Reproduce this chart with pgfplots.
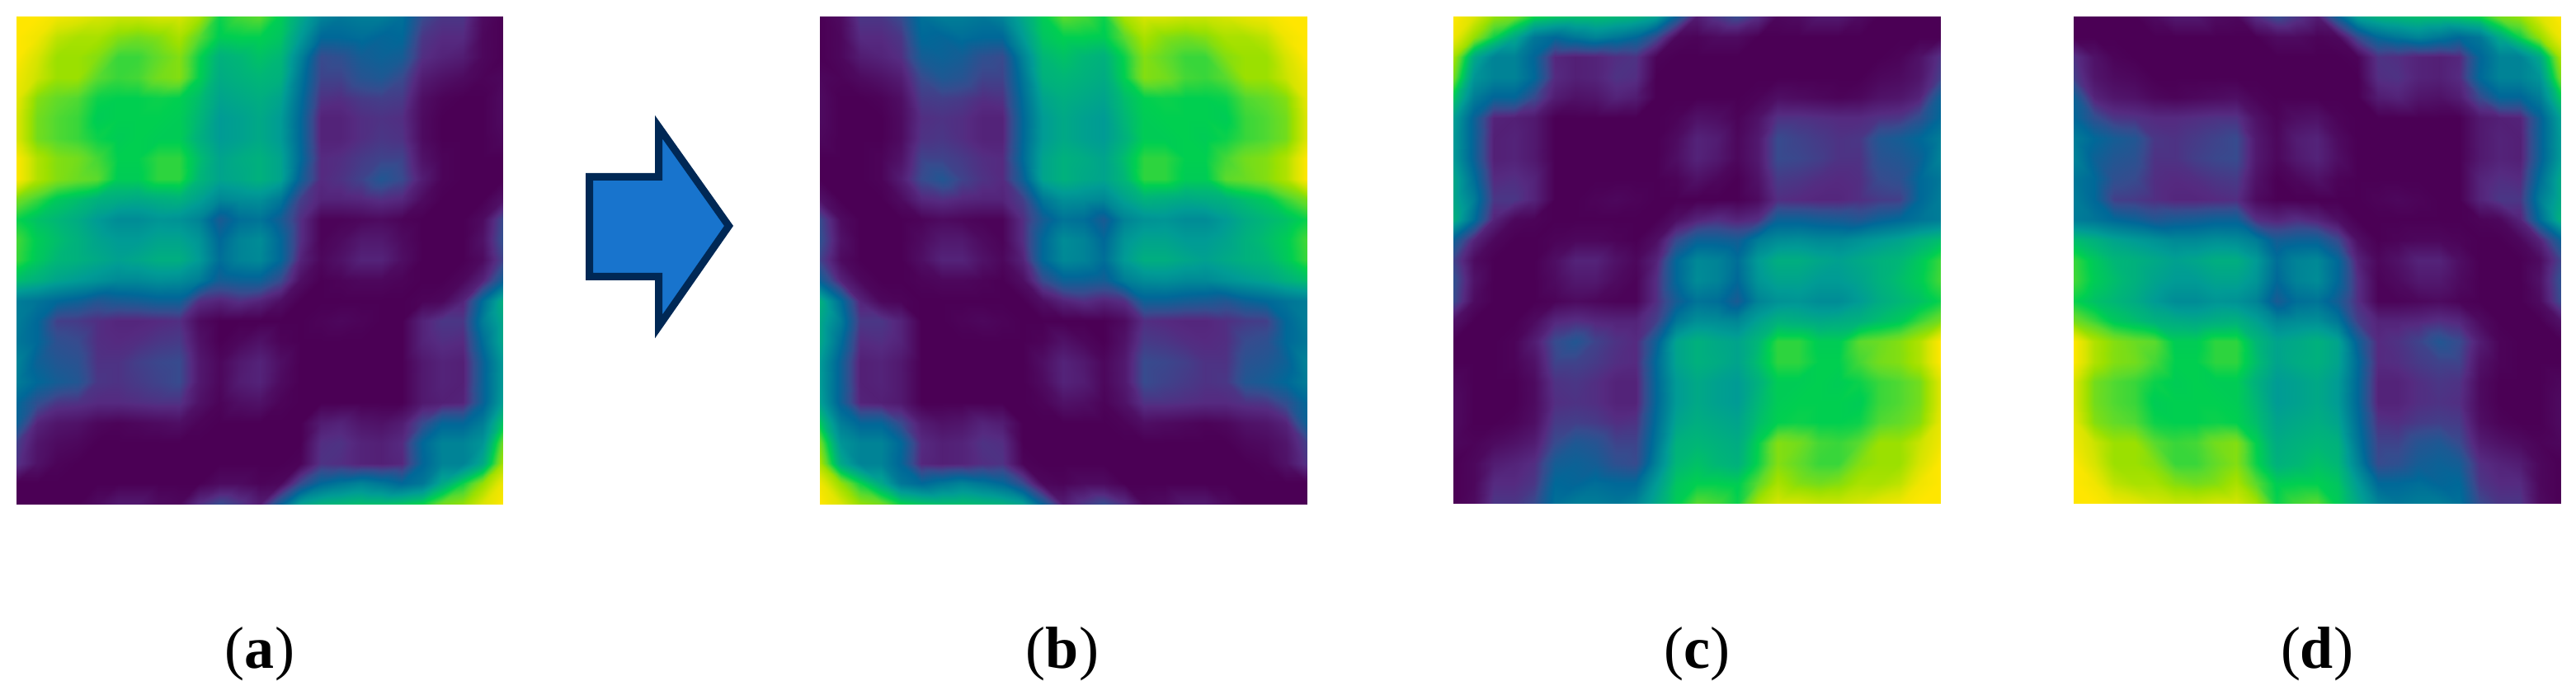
\documentclass[border=0pt]{standalone}
\usepackage{fontspec}
\setmainfont{Liberation Serif}
\usepackage{pgfplots}
\usepackage{pgfplotstable}
\pgfplotsset{compat=1.18}

% viridis-like map as seen in the picture
\pgfplotsset{
  colormap={vir}{
    rgb255(0)=(75,0,85)
    rgb255(12)=(85,42,128)
    rgb255(20)=(55,75,142)
    rgb255(33)=(0,104,152)
    rgb255(50)=(0,155,149)
    rgb255(60)=(0,182,118)
    rgb255(67)=(0,207,80)
    rgb255(75)=(90,218,45)
    rgb255(83)=(155,224,0)
    rgb255(92)=(215,228,0)
    rgb255(100)=(255,230,0)
  },
  heat/.style={
    hide axis, scale only axis, width=5.9cm, height=5.91cm,
    xmin=0, xmax=24, ymin=0, ymax=24,
    colormap name=vir, point meta min=0, point meta max=1,
  },
}

% panel (a), read row by row from the top left, 25 values a row
\pgfplotstableread[row sep=\\]{
v\\
1\\1\\.97\\.95\\.92\\.9\\.9\\.92\\.92\\.85\\.68\\.73\\.75\\.66\\.55\\.42\\.38\\.4\\.4\\.36\\.2\\.15\\.15\\.03\\0\\
1\\.97\\.88\\.85\\.85\\.8\\.78\\.8\\.85\\.75\\.66\\.67\\.67\\.64\\.5\\.33\\.33\\.35\\.32\\.33\\.15\\.12\\.12\\.02\\0\\
1\\.92\\.83\\.83\\.8\\.72\\.72\\.76\\.8\\.68\\.58\\.6\\.63\\.6\\.42\\.2\\.22\\.28\\.3\\.28\\.13\\.1\\.08\\.02\\0\\
.97\\.9\\.83\\.83\\.75\\.72\\.73\\.78\\.8\\.67\\.56\\.58\\.6\\.58\\.38\\.18\\.18\\.24\\.26\\.2\\.08\\.05\\.03\\.01\\.02\\
.95\\.8\\.76\\.74\\.68\\.67\\.67\\.68\\.67\\.62\\.53\\.55\\.57\\.53\\.35\\.14\\.13\\.16\\.17\\.16\\.04\\.01\\0\\0\\.03\\
.93\\.78\\.74\\.72\\.66\\.67\\.67\\.67\\.66\\.6\\.5\\.52\\.55\\.5\\.33\\.1\\.1\\.13\\.14\\.13\\.03\\0\\0\\0\\.03\\
.93\\.78\\.74\\.72\\.68\\.66\\.67\\.66\\.66\\.58\\.5\\.52\\.55\\.5\\.33\\.1\\.1\\.13\\.15\\.14\\.03\\0\\0\\0\\.02\\
1\\.86\\.8\\.78\\.73\\.67\\.67\\.71\\.71\\.62\\.53\\.56\\.58\\.53\\.34\\.12\\.13\\.16\\.18\\.18\\.05\\.01\\0\\0\\0\\
1\\.86\\.8\\.77\\.75\\.66\\.66\\.71\\.71\\.6\\.53\\.55\\.58\\.53\\.3\\.12\\.14\\.18\\.25\\.2\\.08\\.01\\0\\0\\0\\
.78\\.72\\.65\\.62\\.58\\.56\\.55\\.57\\.58\\.52\\.43\\.45\\.46\\.38\\.17\\.1\\.1\\.11\\.13\\.11\\.03\\0\\0\\0\\.05\\
.68\\.63\\.6\\.56\\.5\\.45\\.45\\.48\\.47\\.42\\.27\\.35\\.37\\.28\\.13\\.01\\.01\\.02\\.03\\.01\\0\\0\\0\\.03\\.2\\
.73\\.66\\.62\\.58\\.53\\.5\\.5\\.53\\.53\\.48\\.33\\.42\\.45\\.33\\.13\\.01\\.03\\.07\\.07\\.03\\0\\0\\0\\.05\\.22\\
.72\\.65\\.6\\.58\\.55\\.52\\.54\\.57\\.57\\.5\\.35\\.42\\.44\\.33\\.1\\.02\\.05\\.1\\.1\\.04\\0\\0\\0\\.03\\.18\\
.62\\.58\\.53\\.5\\.47\\.44\\.44\\.46\\.45\\.4\\.28\\.3\\.3\\.2\\.04\\0\\.01\\.02\\.02\\.01\\0\\0\\.02\\.1\\.3\\
.4\\.37\\.33\\.3\\.25\\.27\\.28\\.3\\.3\\.13\\.1\\.13\\.1\\.04\\0\\0\\0\\0\\0\\0\\.01\\.02\\.1\\.35\\.58\\
.4\\.33\\.17\\.16\\.13\\.11\\.11\\.12\\.13\\.03\\0\\0\\0\\0\\0\\.01\\.02\\.01\\0\\0\\.1\\.15\\.15\\.4\\.55\\
.38\\.33\\.22\\.2\\.13\\.12\\.13\\.15\\.16\\.05\\0\\.02\\.05\\.01\\0\\0\\0\\0\\0\\0\\.1\\.13\\.12\\.35\\.55\\
.42\\.3\\.25\\.23\\.14\\.14\\.17\\.19\\.2\\.07\\.02\\.07\\.1\\.04\\0\\0\\0\\0\\0\\0\\.07\\.1\\.09\\.3\\.5\\
.4\\.33\\.28\\.25\\.15\\.14\\.16\\.18\\.2\\.07\\.02\\.08\\.1\\.03\\0\\0\\0\\0\\0\\0\\.07\\.1\\.09\\.3\\.5\\
.33\\.22\\.15\\.14\\.12\\.12\\.13\\.14\\.14\\.05\\.01\\.04\\.05\\.01\\0\\0\\0\\0\\0\\0\\.07\\.09\\.1\\.3\\.52\\
.3\\.1\\.06\\.05\\.02\\.01\\.02\\.03\\.04\\.01\\0\\0\\0\\0\\0\\.08\\.1\\.06\\.05\\.08\\.2\\.32\\.32\\.4\\.65\\
.17\\.06\\.03\\.02\\0\\0\\0\\0\\0\\0\\0\\0\\0\\0\\0\\.13\\.14\\.1\\.09\\.12\\.33\\.42\\.42\\.48\\.78\\
.14\\.05\\.01\\0\\0\\0\\0\\0\\0\\0\\0\\0\\0\\0\\.01\\.14\\.13\\.1\\.09\\.11\\.32\\.42\\.42\\.55\\.85\\
0\\0\\0\\0\\0\\0\\0\\0\\0\\0\\.03\\.03\\.01\\.02\\.2\\.33\\.38\\.42\\.38\\.33\\.38\\.55\\.68\\.82\\.97\\
0\\0\\0\\0\\.03\\.07\\.07\\.03\\.02\\.13\\.2\\.15\\.08\\.3\\.52\\.58\\.6\\.62\\.62\\.64\\.68\\.78\\.82\\.93\\1\\
}\heat
\pgfplotstablecreatecol[copy column from table={\heat}{v}]{w}\heat
\pgfplotstablecreatecol[copy column from table={\heat}{v}]{u}\heat

\newcommand{\heatplot}{%
  \addplot[surf, shader=interp, mesh/cols=25, mesh/ordering=x varies, point meta=\thisrow{v}]
    table[x expr={\coordindex-25*floor((\coordindex+0.5)/25)}, y expr={floor((\coordindex+0.5)/25)}] {\heat};
}

\begin{document}
\begin{tikzpicture}[x=1cm, y=1cm]
\path[use as bounding box] (0,0) rectangle (31.23,8.49);

\begin{axis}[heat, at={(0.20cm,2.38cm)}, y dir=reverse]
\heatplot
\end{axis}
\begin{axis}[heat, at={(9.94cm,2.38cm)}, x dir=reverse, y dir=reverse]
\heatplot
\end{axis}
\begin{axis}[heat, at={(17.62cm,2.38cm)}, x dir=reverse]
\heatplot
\end{axis}
\begin{axis}[heat, at={(25.14cm,2.38cm)}]
\heatplot
\end{axis}

% arrow between (a) and (b)
\draw[line width=0.09cm, draw={rgb,255:red,0;green,40;blue,85}, fill={rgb,255:red,24;green,116;blue,205}, miter limit=20]
  (7.145,6.345) -- (7.985,6.345) -- (7.985,6.95) -- (8.835,5.75) -- (7.985,4.53) -- (7.985,5.135) -- (7.145,5.135) -- cycle;

\foreach \x/\t in {3.15/a, 12.88/b, 20.57/c, 28.09/d}
  \node[inner sep=0pt, font=\fontsize{20.5pt}{24pt}\selectfont] at (\x,0.56) {(\textbf{\t})};
\end{tikzpicture}
\end{document}
